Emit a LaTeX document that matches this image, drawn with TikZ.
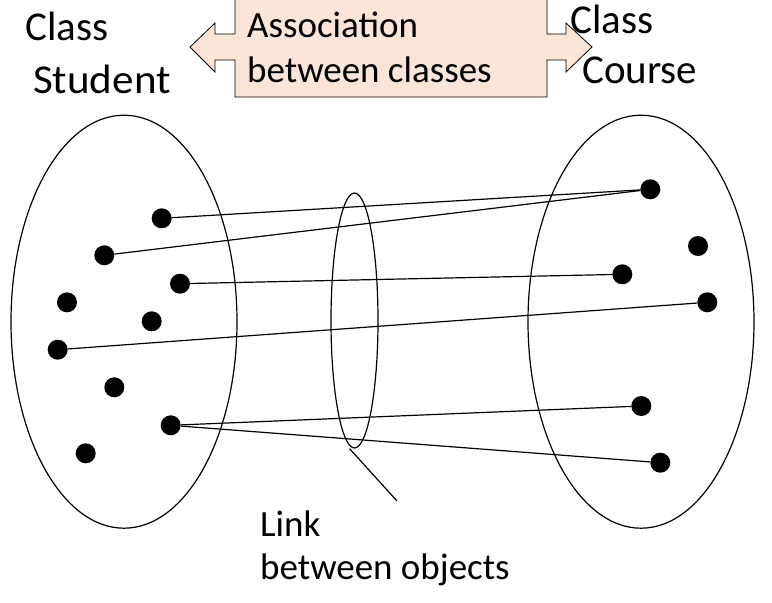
\documentclass[tikz,border=0pt]{standalone}
\usepackage{fontspec}
\setmainfont{Carlito}
\usetikzlibrary{positioning, shapes.geometric}
\definecolor{peach}{HTML}{FBE5D6}
\tikzset{
  obj/.style={circle, fill=black, inner sep=0pt, minimum size=20pt},
  cls/.style={ellipse, draw, line width=1.2pt, inner sep=0pt},
  lbl/.style={font=\fontsize{37}{44}\selectfont, inner sep=0pt, anchor=base west},
  clslbl/.style={lbl, font=\fontsize{41}{48}\selectfont},
  lnk/.style={line width=1.2pt}
}

\begin{document}
\begin{tikzpicture}[x=1pt,y=-1pt]
\useasboundingbox (0,0) rectangle (772,603);
\draw[fill=peach, line width=0.8pt] (235,-2)--(235,34)--(215,34)--(215,23)--(190,47)--(215,72)--(215,60)--(235,60)--(235,97)--(547,97)--(547,60)--(566,60)--(566,72)--(592,47)--(566,23)--(566,34)--(547,34)--(547,-2)--cycle;
\node[lbl] (assoc1) at (247,37) {Association};
\node[lbl] (assoc2) at (247,82) {between classes};
\node[clslbl] (student1) at (25,40) {Class};
\node[clslbl] (student2) at (33,93) {\scalebox{1.05}[1]{Student}};
\node[clslbl] (course1) at (570,33) {Class};
\node[clslbl] (course2) at (582,83) {Course};
\node[lbl] (link1) at (260,536) {Link};
\node[lbl] (link2) at (260,579) {between objects};

\node[cls, minimum width=226pt, minimum height=413pt] (student) at (124,321.7) {};
\node[cls, minimum width=226pt, minimum height=413pt] (course) at (641,321.7) {};
\node[cls, minimum width=47pt, minimum height=255pt] (link) at (354.5,320.5) {};
\coordinate (pointer) at (397,501);
\draw[lnk] ([xshift=-5pt]link.south) -- (pointer);

\node[obj] (s1) at (161.7,218.3) {};
\node[obj] (s2) at (104.3,255.3) {};
\node[obj] (s3) at (180,283.7) {};
\node[obj] (s4) at (67,302.3) {};
\node[obj] (s5) at (151.7,321.3) {};
\node[obj] (s6) at (57.7,349.7) {};
\node[obj] (s7) at (114.3,387.3) {};
\node[obj] (s8) at (170.7,425.3) {};
\node[obj] (s9) at (85.7,453.3) {};

\node[obj] (c1) at (650.3,189.3) {};
\node[obj] (c2) at (698,246) {};
\node[obj] (c3) at (622.3,274.3) {};
\node[obj] (c4) at (707.3,302.3) {};
\node[obj] (c5) at (641.3,406) {};
\node[obj] (c6) at (660.3,462.7) {};

\draw[lnk] (s1)--(c1);
\draw[lnk] (s2)--(c1);
\draw[lnk] (s3)--(c3);
\draw[lnk] (s6)--(c4);
\draw[lnk] (s8)--(c5);
\draw[lnk] (s8)--(c6);
\end{tikzpicture}
\end{document}
